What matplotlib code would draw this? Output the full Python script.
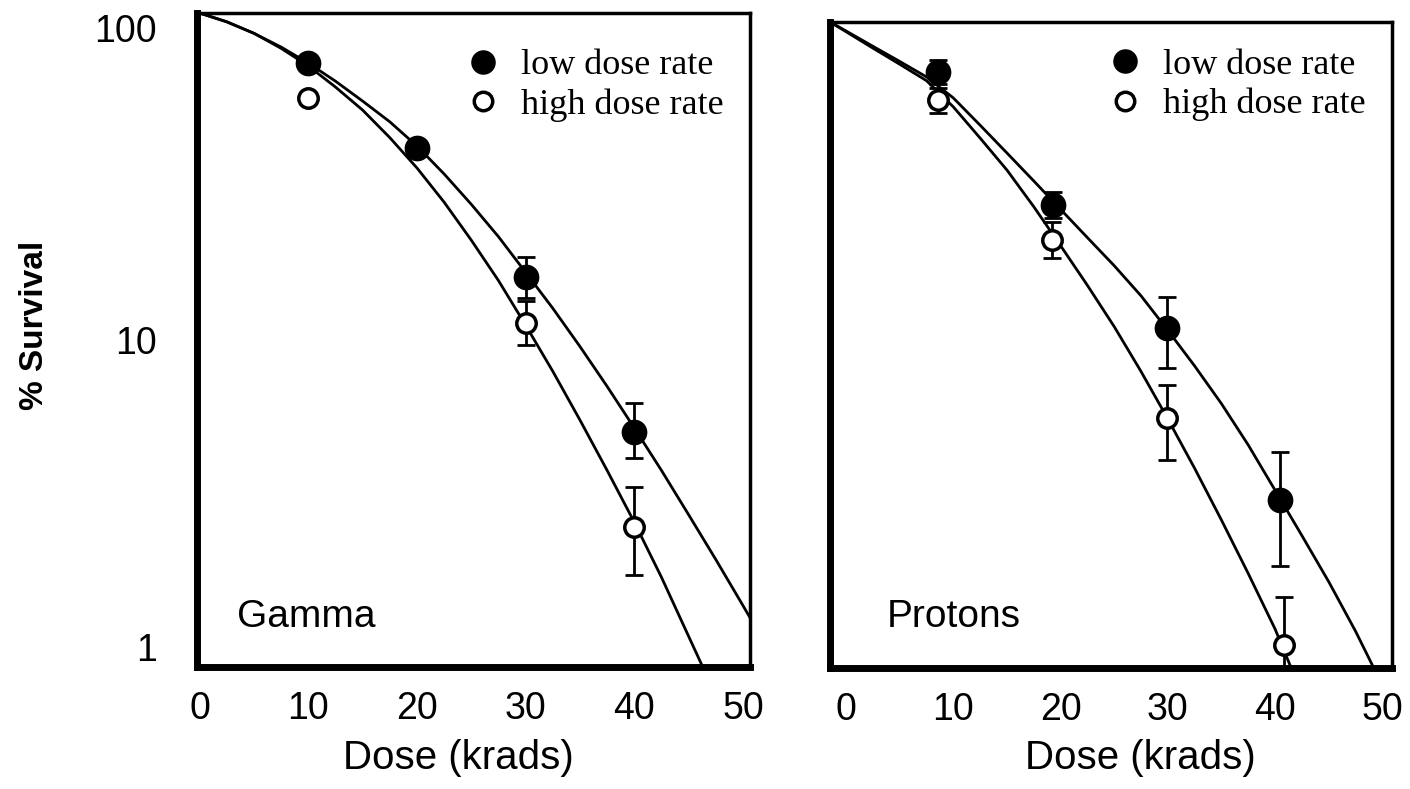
#!/usr/bin/env python3
# -*- coding: utf-8 -*-
# ============================================================================
# Cell survival vs dose : gamma rays and protons, low / high dose rate
# ============================================================================

import matplotlib
matplotlib.use("Agg")
import matplotlib.pyplot as plt
import matplotlib.transforms as mtransforms
import numpy as np

# -----------------------------------------------------------------------------
# Data (dose in krads, survival in %)
# -----------------------------------------------------------------------------

GAMMA_LOW_DOSE = [10, 20, 30, 40]
GAMMA_LOW_SURV = [70.3, 38.6, 15.6, 5.24]
GAMMA_LOW_ERR_LO = [70.3, 38.6, 13.4, 4.35]
GAMMA_LOW_ERR_HI = [70.3, 38.6, 17.9, 6.41]

GAMMA_HIGH_DOSE = [10, 30, 40]
GAMMA_HIGH_SURV = [55.0, 11.3, 2.68]
GAMMA_HIGH_ERR_LO = [55.0, 9.66, 1.91]
GAMMA_HIGH_ERR_HI = [55.0, 13.2, 3.55]

GAMMA_FIT_LOW_DOSE = [0, 2.5, 5, 7.5, 10, 12.5, 15, 17.5, 20, 22.5, 25, 27.5,
                      30, 32.5, 35, 37.5, 40, 42.5, 45, 47.5, 50, 51]
GAMMA_FIT_LOW = [100, 94.0, 86.7, 78.7, 70.3, 61.9, 53.8, 46.5, 39.2, 32.2, 26.0, 20.7,
                 16.1, 12.5, 9.55, 7.21, 5.38, 3.99, 2.92, 2.13, 1.54, 1.35]
GAMMA_FIT_HIGH_DOSE = [0, 2.5, 5, 7.5, 10, 12.5, 15, 17.5, 20, 22.5, 25, 27.5,
                       30, 32.5, 35, 37.5, 40, 42.5, 45, 46, 47]
GAMMA_FIT_HIGH = [100, 94.0, 86.7, 78.0, 68.9, 59.4, 50.5, 41.6, 33.6, 26.4, 20.2, 15.2,
                  11.1, 8.02, 5.69, 3.99, 2.77, 1.88, 1.24, 1.05, 0.89]

PROTON_LOW_DOSE = [8.6, 19.3, 29.9, 40.5]
PROTON_LOW_SURV = [69.9, 27.1, 11.3, 3.31]
PROTON_LOW_ERR_LO = [64.3, 24.7, 8.5, 2.07]
PROTON_LOW_ERR_HI = [76.3, 29.8, 14.1, 4.67]

PROTON_HIGH_DOSE = [8.6, 19.2, 29.9, 40.8]
PROTON_HIGH_SURV = [57.4, 21.1, 5.94, 1.18]
PROTON_HIGH_ERR_LO = [52.3, 18.6, 4.4, 0.85]
PROTON_HIGH_ERR_HI = [62.5, 24.0, 7.5, 1.66]

PROTON_FIT_LOW_DOSE = [-1.5, 0, 2.5, 5, 7.5, 10, 12.5, 15, 17.5, 20, 22.5, 25, 27.5,
                       30, 32.5, 35, 37.5, 40, 42.5, 45, 47.5, 49.2, 50]
PROTON_FIT_LOW = [100, 93.8, 84.1, 75.5, 67.6, 58.2, 47.9, 39.3, 32.2, 26.3, 21.5, 17.6, 14.2,
                  11.1, 8.61, 6.58, 4.90, 3.55, 2.57, 1.85, 1.30, 1.0, 0.89]
PROTON_FIT_HIGH_DOSE = [-1.5, 0, 2.5, 5, 7.5, 10, 12.5, 15, 17.5, 20, 22.5, 25, 27.5,
                        30, 32.5, 35, 37.5, 40, 41.5, 42.5]
PROTON_FIT_HIGH = [100, 93.3, 83.0, 74.0, 65.8, 54.6, 43.7, 34.8, 26.8, 20.3, 15.3, 11.4, 8.28,
                   5.90, 4.15, 2.87, 1.96, 1.32, 1.0, 0.83]

X_TICKS = [0, 10, 20, 30, 40, 50]
Y_TICKS = [1, 10, 100]
Y_TICK_LABELS = ["1", "10", "100"]

LEGEND_LABELS = ["low dose rate", "high dose rate"]

# -----------------------------------------------------------------------------
# Style
# -----------------------------------------------------------------------------

SANS = ["Liberation Sans", "DejaVu Sans"]
SERIF = ["Liberation Serif", "DejaVu Serif"]

MARKER_SIZE = 17
LINE_W = 2.0
TICK_SIZE = 27


# -----------------------------------------------------------------------------
# Function : draw_panel
# Description :
#   Draw one survival panel (fit curves, error bars, markers, legend).
# -----------------------------------------------------------------------------
def draw_panel(ax, low, high, fit_low, fit_high, xlim, name, name_pos, legend_pos, show_y):
    ld, ls, llo, lhi = [np.array(v, dtype=float) for v in low]
    hd, hs, hlo, hhi = [np.array(v, dtype=float) for v in high]

    ax.set_yscale("log")

    # fitted curves
    ax.plot(fit_low[0], fit_low[1], color="black", lw=LINE_W, zorder=2)
    ax.plot(fit_high[0], fit_high[1], color="black", lw=LINE_W, zorder=2)

    # error bars
    ax.errorbar(ld, ls, yerr=[ls - llo, lhi - ls], fmt="none", ecolor="black",
                elinewidth=2.0, capsize=6.5, capthick=2.0, zorder=3)
    ax.errorbar(hd, hs, yerr=[hs - hlo, hhi - hs], fmt="none", ecolor="black",
                elinewidth=2.0, capsize=6.5, capthick=2.0, zorder=3)

    # markers
    h_low, = ax.plot(ld, ls, "o", ms=MARKER_SIZE, mfc="black", mec="black",
                     mew=1.5, zorder=5, label=LEGEND_LABELS[0])
    h_high, = ax.plot(hd, hs, "o", ms=MARKER_SIZE - 3, mfc="white", mec="black",
                      mew=2.5, zorder=5, label=LEGEND_LABELS[1])

    ax.set_xlim(*xlim)
    ax.set_ylim(1, 100)
    ax.set_xticks(X_TICKS)
    ax.set_xticklabels([str(t) for t in X_TICKS], family=SANS, fontsize=TICK_SIZE)
    ax.minorticks_off()
    ax.tick_params(axis="both", length=0)
    ax.tick_params(axis="x", pad=17)

    if show_y:
        ax.set_yticks(Y_TICKS)
        ax.set_yticklabels(Y_TICK_LABELS, family=SANS, fontsize=TICK_SIZE)
        ax.tick_params(axis="y", pad=29)
        # end labels sit a little inside the frame
        shifts = {"1": 20, "10": 0, "100": -15}
        for lab in ax.get_yticklabels():
            dy = shifts.get(lab.get_text(), 0) / 100.0
            off = mtransforms.ScaledTranslation(0, dy, ax.figure.dpi_scale_trans)
            lab.set_transform(lab.get_transform() + off)
    else:
        ax.set_yticks([])

    ax.set_xlabel("Dose (krads)", family=SANS, fontsize=29)

    for side in ["left", "bottom"]:
        ax.spines[side].set_linewidth(5.0)
    for side in ["top", "right"]:
        ax.spines[side].set_linewidth(2.5)

    ax.text(name_pos[0], name_pos[1], name, transform=ax.transAxes,
            family=SANS, fontsize=28, ha="left", va="baseline")

    ax.legend(handles=[h_low, h_high], loc="upper left", bbox_to_anchor=legend_pos,
              frameon=False, prop={"family": SERIF, "size": 26},
              handlelength=1.0, handletextpad=0.55, labelspacing=0.17,
              borderpad=0.0, borderaxespad=0.0, markerscale=0.95)


# -----------------------------------------------------------------------------
# Function : main
# -----------------------------------------------------------------------------
def main() -> None:
    fig = plt.figure(figsize=(14.1, 7.89), dpi=100)
    fig.patch.set_facecolor("white")

    ax_g = fig.add_axes([197 / 1410, 122 / 789, 553 / 1410, 654 / 789])
    ax_p = fig.add_axes([830 / 1410, 121 / 789, 562 / 1410, 646 / 789])

    draw_panel(ax_g,
               (GAMMA_LOW_DOSE, GAMMA_LOW_SURV, GAMMA_LOW_ERR_LO, GAMMA_LOW_ERR_HI),
               (GAMMA_HIGH_DOSE, GAMMA_HIGH_SURV, GAMMA_HIGH_ERR_LO, GAMMA_HIGH_ERR_HI),
               (GAMMA_FIT_LOW_DOSE, GAMMA_FIT_LOW),
               (GAMMA_FIT_HIGH_DOSE, GAMMA_FIT_HIGH),
               xlim=(-0.23, 50.64), name="Gamma", name_pos=(0.072, 0.061),
               legend_pos=(0.485, 0.945), show_y=True)
    ax_g.xaxis.set_label_coords(0.472, -0.11)

    draw_panel(ax_p,
               (PROTON_LOW_DOSE, PROTON_LOW_SURV, PROTON_LOW_ERR_LO, PROTON_LOW_ERR_HI),
               (PROTON_HIGH_DOSE, PROTON_HIGH_SURV, PROTON_HIGH_ERR_LO, PROTON_HIGH_ERR_HI),
               (PROTON_FIT_LOW_DOSE, PROTON_FIT_LOW),
               (PROTON_FIT_HIGH_DOSE, PROTON_FIT_HIGH),
               xlim=(-1.5, 50.9), name="Protons", name_pos=(0.101, 0.063),
               legend_pos=(0.493, 0.959), show_y=False)
    ax_p.xaxis.set_label_coords(0.552, -0.11)

    fig.text(35 / 1410, (789 - 325) / 789, "% Survival", rotation=90,
             family=SANS, fontsize=24, fontweight="bold", ha="center", va="center")

    fig.savefig("out.png", dpi=100, facecolor="white")


if __name__ == "__main__":
    main()

# end of file
